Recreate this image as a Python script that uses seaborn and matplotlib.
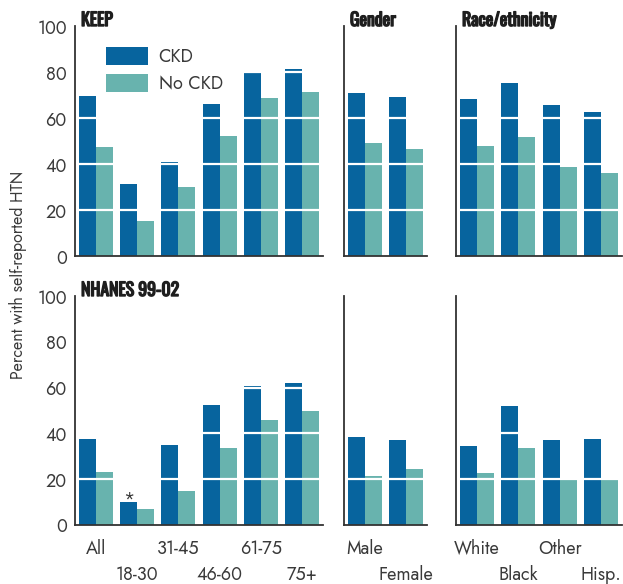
import matplotlib
matplotlib.use("Agg")
import matplotlib.pyplot as plt
import matplotlib.patheffects as pe
import seaborn as sns
import pandas as pd
from matplotlib.patches import Patch

# Percent with self-reported hypertension, CKD vs. no CKD
age_groups = ["All", "18-30", "31-45", "46-60", "61-75", "75+"]
genders = ["Male", "Female"]
races = ["White", "Black", "Other", "Hisp."]
series = ["CKD", "No CKD"]

keep_age_ckd = [69.6, 31.3, 40.9, 66.0, 79.7, 81.3]
keep_age_nockd = [47.4, 15.2, 30.0, 52.2, 68.7, 71.3]
keep_gender_ckd = [70.9, 69.1]
keep_gender_nockd = [49.1, 46.5]
keep_race_ckd = [68.3, 75.2, 65.7, 62.6]
keep_race_nockd = [47.8, 51.7, 38.7, 36.1]

nhanes_age_ckd = [37.5, 10.1, 34.9, 52.3, 60.6, 61.9]
nhanes_age_nockd = [23.2, 7.1, 14.9, 33.6, 45.8, 49.7]
nhanes_gender_ckd = [38.4, 37.1]
nhanes_gender_nockd = [21.4, 24.5]
nhanes_race_ckd = [34.5, 51.9, 37.1, 37.5]
nhanes_race_nockd = [22.8, 33.6, 20.6, 19.7]

panel_titles = ["KEEP", "Gender", "Race/ethnicity"]
row2_title = "NHANES 99-02"
ylabel = "Percent with self-reported HTN"

CKD_COLOR = "#07649e"
NOCKD_COLOR = "#68b3ae"
TEXT_COLOR = "#3a3a3a"
TITLE_COLOR = "#1e1e1e"

sns.set_theme(style="white")
plt.rcParams["font.family"] = ["Jost", "Lato", "DejaVu Sans"]

W, H = 623, 584
fig = plt.figure(figsize=(W / 100, H / 100), dpi=100)


def frame(x0, x1, y_top, y_bot):
    return [x0 / W, 1 - y_bot / H, (x1 - x0) / W, (y_bot - y_top) / H]


cols_px = [(75, 323), (344, 427), (456, 622)]
rows_px = [(26, 256), (296, 525)]

data = [
    [(age_groups, keep_age_ckd, keep_age_nockd),
     (genders, keep_gender_ckd, keep_gender_nockd),
     (races, keep_race_ckd, keep_race_nockd)],
    [(age_groups, nhanes_age_ckd, nhanes_age_nockd),
     (genders, nhanes_gender_ckd, nhanes_gender_nockd),
     (races, nhanes_race_ckd, nhanes_race_nockd)],
]

# condensed heavy headings: a thin stroke in the same colour thickens the glyphs
title_font = dict(family=["Oswald", "Barlow Condensed", "DejaVu Sans"],
                  weight="bold", size=12.8, color=TITLE_COLOR,
                  path_effects=[pe.withStroke(linewidth=1.0,
                                              foreground=TITLE_COLOR)])

axes = {}
for r, (yt, yb) in enumerate(rows_px):
    for c, (x0, x1) in enumerate(cols_px):
        cats, ckd, nockd = data[r][c]
        df = pd.DataFrame({
            "group": cats * 2,
            "pct": list(ckd) + list(nockd),
            "status": [series[0]] * len(cats) + [series[1]] * len(cats),
        })
        ax = fig.add_axes(frame(x0, x1, yt, yb))
        axes[(r, c)] = ax
        sns.barplot(data=df, x="group", y="pct", hue="status", order=cats,
                    hue_order=series, palette=[CKD_COLOR, NOCKD_COLOR],
                    width=0.82, saturation=1, errorbar=None, ax=ax,
                    legend=False, linewidth=0, zorder=2)
        ax.set_xlim(-0.5, len(cats) - 0.5)
        ax.set_ylim(0, 100)
        ax.set_yticks([0, 20, 40, 60, 80, 100])
        # white reference lines drawn across the bars
        for yv in [20, 40, 60, 80]:
            ax.axhline(yv, color="white", lw=1.6, zorder=3)
        ax.set_xlabel("")
        ax.set_ylabel("")
        for s in ["top", "right"]:
            ax.spines[s].set_visible(False)
        for s in ["left", "bottom"]:
            ax.spines[s].set_color("#333333")
            ax.spines[s].set_linewidth(1.3)
            ax.spines[s].set_zorder(4)
        ax.tick_params(axis="both", length=0)
        if c == 0:
            ax.tick_params(axis="y", labelsize=13, labelcolor=TEXT_COLOR, pad=6)
        else:
            ax.set_yticklabels([])
        ax.set_xticks(range(len(cats)))
        ax.set_xticklabels([])
        if r == 1:
            for i, t in enumerate(cats):
                ax.annotate(t, xy=(i, 0), xycoords=("data", "axes fraction"),
                            xytext=(0, -29 if i % 2 == 0 else -55),
                            textcoords="offset pixels",
                            ha="center", va="baseline", fontsize=13,
                            color=TEXT_COLOR)
        title = panel_titles[c] if r == 0 else (row2_title if c == 0 else "")
        if title:
            ax.annotate(title, xy=(0, 1), xycoords="axes fraction",
                        xytext=(6, 0), textcoords="offset pixels",
                        ha="left", va="baseline", **title_font)

# asterisk above the 18-30 CKD bar in the lower age panel
ax_n = axes[(1, 0)]
ax_n.annotate("*", xy=(1 - 0.205, nhanes_age_ckd[1]), xytext=(0, -7),
              textcoords="offset pixels", ha="center", va="bottom",
              fontsize=14, color=TEXT_COLOR)

# legend inside the upper age panel
ax_k = axes[(0, 0)]
handles = [Patch(facecolor=CKD_COLOR, edgecolor="none"),
           Patch(facecolor=NOCKD_COLOR, edgecolor="none")]
leg = ax_k.legend(handles, series, loc="upper left",
                  bbox_to_anchor=(0.097, 0.94), frameon=False,
                  handlelength=2.3, handleheight=1.1, handletextpad=0.6,
                  labelspacing=0.45, fontsize=13, borderaxespad=0)
for t in leg.get_texts():
    t.set_color(TEXT_COLOR)

fig.text(18 / W, 1 - 275 / H, ylabel, rotation=90, ha="center", va="center",
         fontsize=11.5, color=TEXT_COLOR)

fig.savefig("out.png", dpi=100)
